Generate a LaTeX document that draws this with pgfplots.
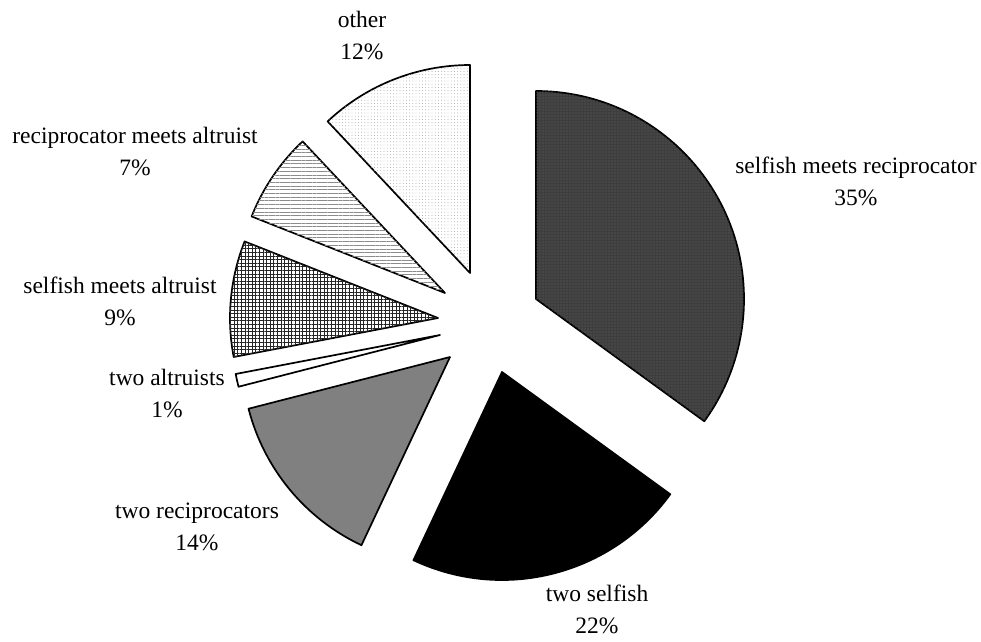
\documentclass[border=0pt]{standalone}
\usepackage{pgfplots}
\pgfplotsset{compat=1.18}
\usepackage{fontspec}
\setmainfont{Liberation Serif}
\usetikzlibrary{patterns,patterns.meta}

\definecolor{sliceA}{RGB}{62,62,62}
\definecolor{sliceAdots}{RGB}{98,98,98}
\definecolor{sliceC}{RGB}{128,128,128}

% pie radius in axis units (1 unit = 1pt)
\newcommand{\pieR}{208}
% \slice{cumulative % at start}{share in %}{tip x}{tip y}{style}
% slices run clockwise from 12 o'clock; each one is pulled out to its own tip
\newcommand{\slice}[5]{%
  \draw[line width=1.7pt, line join=round, #5]
    (axis cs:#3,#4) -- ++({90-3.6*#1}:\pieR pt)
    arc[start angle={90-3.6*#1}, delta angle={-3.6*#2}, radius=\pieR pt] -- cycle;}
% \lbl{x}{baseline}{name}{share}
\newcommand{\lbl}[4]{%
  \node[anchor=base, inner sep=0pt] at (axis cs:#1,#2) {#3};
  \node[anchor=base, inner sep=0pt] at (axis cs:#1,#2+32) {#4\%};}

\begin{document}
\begin{tikzpicture}
\begin{axis}[
  scale only axis,
  width=981pt, height=641pt,
  xmin=0, xmax=981, ymin=0, ymax=641,
  y dir=reverse,
  hide axis, clip=false,
]
\fontsize{23.5}{32}\selectfont
% selfish meets reciprocator, 35%
\slice{0}{35}{536}{299}{fill=sliceA,
  postaction={pattern={Dots[distance=3pt, radius=0.55pt]}, pattern color=sliceAdots}}
% two selfish, 22%
\slice{35}{22}{502}{372}{fill=black}
% two reciprocators, 14%
\slice{57}{14}{450}{357}{fill=sliceC}
% two altruists, 1%
\slice{71}{1}{440}{335}{fill=white}
% selfish meets altruist, 9%
\slice{72}{9}{438}{318}{fill=white,
  postaction={pattern={Hatch[angle=0, distance=3.6pt, line width=0.4pt]}, pattern color=black!85}}
% reciprocator meets altruist, 7%
\slice{81}{7}{445}{293}{fill=white,
  postaction={pattern={Lines[angle=0, distance=3.7pt, line width=0.6pt]}, pattern color=black!45}}
% other, 12%
\slice{88}{12}{470}{273}{fill=white,
  postaction={pattern={Dots[distance=3.2pt, radius=0.45pt]}, pattern color=black!40}}

\lbl{856}{173}{selfish meets reciprocator}{35}
\lbl{597}{601}{two selfish}{22}
\lbl{197}{518}{two reciprocators}{14}
\lbl{167}{385}{two altruists}{1}
\lbl{120}{293}{selfish meets altruist}{9}
\lbl{135}{143}{reciprocator meets altruist}{7}
\lbl{362}{27}{other}{12}
\end{axis}
\pgfresetboundingbox
\path[use as bounding box] (0,0) rectangle (981pt,641pt);
\end{tikzpicture}
\end{document}
